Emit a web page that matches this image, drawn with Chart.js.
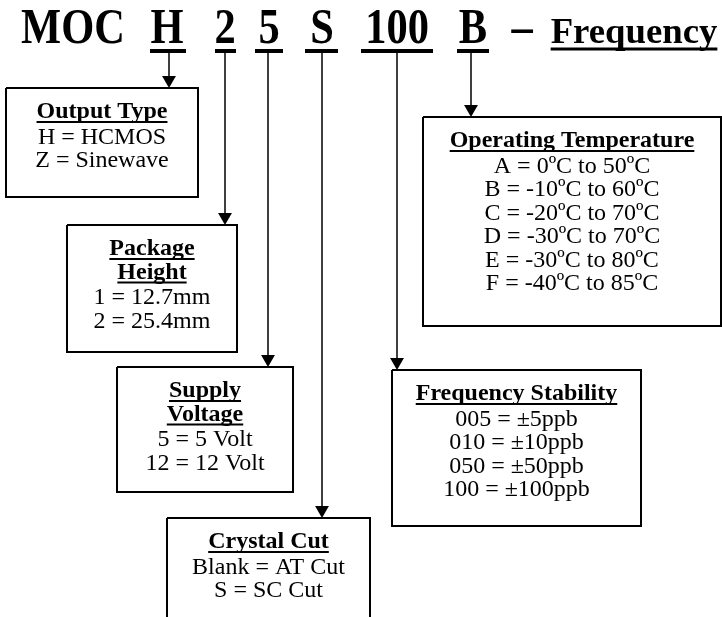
<!DOCTYPE html>
<html>
<head>
<meta charset="utf-8">
<script src="https://cdn.jsdelivr.net/npm/chart.js@4.4.1/dist/chart.umd.min.js"></script>
<style>
  html, body { margin: 0; padding: 0; background: #fff; }
  canvas { display: block; }
</style>
</head>
<body>
<canvas id="diagram" width="722" height="617"></canvas>
<script>
// part number pieces
const codeParts = ['MOC', 'H', '2', '5', 'S', '100', 'B', '\u2013', 'Frequency'];

// one entry per field box, in order of the part number
const fieldCodes = ['H', '2', '5', 'S', '100', 'B'];
const fieldTitles = [
    ['Output Type'],
    ['Package', 'Height'],
    ['Supply', 'Voltage'],
    ['Crystal Cut'],
    ['Frequency Stability'],
    ['Operating Temperature']
];
const fieldOptions = [
    ['H = HCMOS', 'Z = Sinewave'],
    ['1 = 12.7mm', '2 = 25.4mm'],
    ['5 = 5 Volt', '12 = 12 Volt'],
    ['Blank = AT Cut', 'S = SC Cut'],
    ['005 = \u00b15ppb', '010 = \u00b110ppb', '050 = \u00b150ppb', '100 = \u00b1100ppb'],
    ['A = 0\u00baC to 50\u00baC', 'B = -10\u00baC to 60\u00baC', 'C = -20\u00baC to 70\u00baC',
     'D = -30\u00baC to 70\u00baC', 'E = -30\u00baC to 80\u00baC', 'F = -40\u00baC to 85\u00baC']
];

// layout (diagram units, same as pixels)
const codeX = [73, 167, 225, 269, 322, 397, 473, 522, 634];
const underlineSpan = [[150, 186], [215, 236], [255, 283], [305, 338], [361, 433], [457, 489]];
const connectorX = [169, 225, 268, 322, 397, 471];
const boxes = [
    [6, 88, 198, 197],
    [67, 225, 237, 352],
    [117, 367, 293, 492],
    [167, 518, 370, 640],
    [392, 370, 641, 526],
    [423, 117, 721, 326]
];
const headBaseline = 43;
const underlineY = 51;
const arrowSize = 8;
const lineGap = 23.5;

let datasets = [];

// underlines below each code
underlineSpan.forEach(span => {
    datasets.push({
        data: [{x: span[0], y: underlineY}, {x: span[1], y: underlineY}],
        showLine: true,
        borderColor: '#000',
        borderWidth: 4,
        pointRadius: 0,
        clip: false
    });
});

// connector lines and arrow heads
connectorX.forEach((x, i) => {
    let tip = boxes[i][1];
    datasets.push({
        data: [{x: x, y: underlineY}, {x: x, y: tip - arrowSize}],
        showLine: true,
        borderColor: '#000',
        borderWidth: 1.5,
        pointRadius: 0,
        clip: false
    });
    datasets.push({
        data: [{x: x, y: tip - arrowSize}],
        showLine: false,
        pointStyle: 'triangle',
        rotation: 180,
        pointRadius: arrowSize,
        backgroundColor: '#000',
        borderColor: '#000',
        borderWidth: 0,
        clip: false
    });
});

// the field boxes
boxes.forEach(b => {
    datasets.push({
        data: [
            {x: b[0], y: b[1]}, {x: b[2], y: b[1]},
            {x: b[2], y: b[3]}, {x: b[0], y: b[3]}, {x: b[0], y: b[1]}
        ],
        showLine: true,
        borderColor: '#000',
        borderWidth: 2,
        borderJoinStyle: 'miter',
        pointRadius: 0,
        clip: false
    });
});

function drawScaled(ctx, text, x, y, sx) {
    ctx.save();
    ctx.translate(x, y);
    ctx.scale(sx, 1);
    ctx.fillText(text, 0, 0);
    ctx.restore();
}

const textPlugin = {
    id: 'diagramText',
    afterDatasetsDraw(chart) {
        const ctx = chart.ctx;
        const xs = chart.scales.x;
        const ys = chart.scales.y;
        ctx.save();
        ctx.fillStyle = '#000';
        ctx.strokeStyle = '#000';
        ctx.textAlign = 'center';
        ctx.textBaseline = 'alphabetic';

        // heading
        codeParts.forEach((part, i) => {
            let x = xs.getPixelForValue(codeX[i]);
            let y = ys.getPixelForValue(headBaseline);
            if (part === 'Frequency') {
                ctx.font = 'bold 35px "Liberation Serif"';
                drawScaled(ctx, part, x, y, 1.05);
                let w = ctx.measureText(part).width * 1.05;
                ctx.lineWidth = 3;
                ctx.beginPath();
                ctx.moveTo(x - w / 2, y + 6);
                ctx.lineTo(x + w / 2, y + 6);
                ctx.stroke();
            } else {
                ctx.font = 'bold 50px "Liberation Serif"';
                drawScaled(ctx, part, x, y, 0.85);
            }
        });

        // box texts
        boxes.forEach((b, i) => {
            let cx = xs.getPixelForValue((b[0] + b[2]) / 2);
            let y = ys.getPixelForValue(b[1] + 30);
            ctx.font = 'bold 24px "Liberation Serif"';
            ctx.lineWidth = 2;
            fieldTitles[i].forEach(t => {
                ctx.fillText(t, cx, y);
                let w = ctx.measureText(t).width;
                ctx.beginPath();
                ctx.moveTo(cx - w / 2, y + 4);
                ctx.lineTo(cx + w / 2, y + 4);
                ctx.stroke();
                y += lineGap;
            });
            y += 2;
            ctx.font = '24px "Liberation Serif"';
            fieldOptions[i].forEach(t => {
                ctx.fillText(t, cx, y);
                y += lineGap;
            });
        });
        ctx.restore();
    }
};

new Chart(document.getElementById('diagram'), {
    type: 'scatter',
    data: {datasets: datasets},
    options: {
        responsive: false,
        animation: false,
        events: [],
        layout: {padding: 0, autoPadding: false},
        plugins: {
            legend: {display: false},
            tooltip: {enabled: false}
        },
        scales: {
            x: {type: 'linear', min: 0, max: 722, display: false},
            y: {type: 'linear', min: 0, max: 617, reverse: true, display: false}
        }
    },
    plugins: [textPlugin]
});
</script>
</body>
</html>
